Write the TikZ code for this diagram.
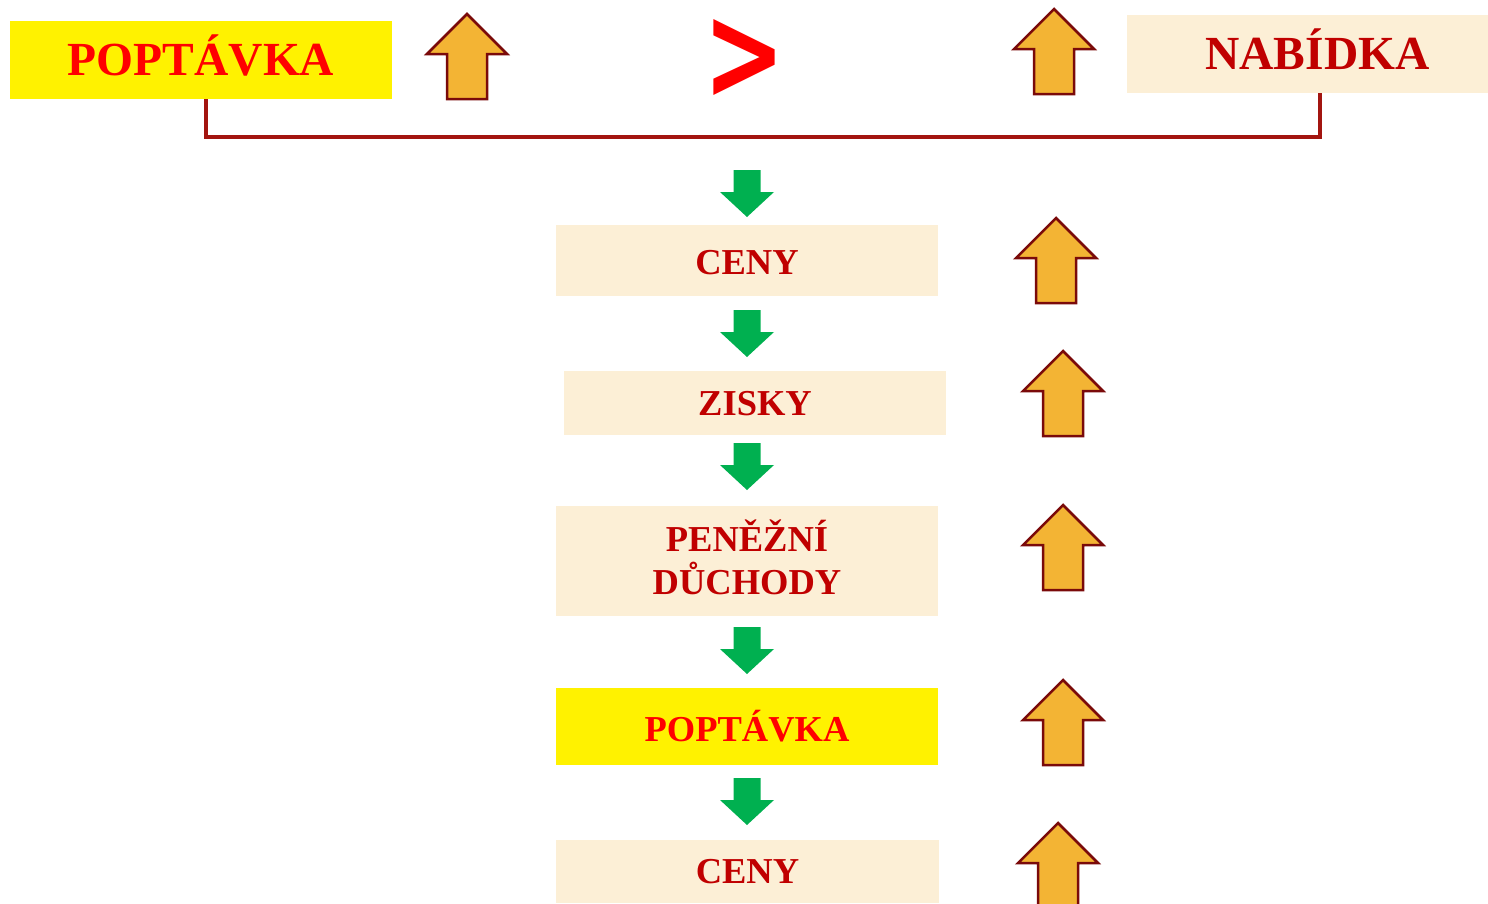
\documentclass[tikz,border=0pt]{standalone}
\usepackage{fontspec}
\setmainfont{Liberation Serif}
\newfontfamily\symfont{DejaVu Sans}
\definecolor{beige}{HTML}{FCEFD6}
\definecolor{dred}{HTML}{C00000}
\definecolor{bred}{HTML}{A31510}
\definecolor{orangef}{HTML}{F3B434}
\definecolor{orangeo}{HTML}{7A0A0A}
\definecolor{grn}{HTML}{00B050}
\tikzset{
  box/.style={rectangle, inner sep=0pt, fill=beige, text=dred, minimum width=382pt,
    font=\fontsize{36.5}{43}\selectfont\bfseries, text height=24pt, text depth=0pt, align=center},
  bigbox/.style={box, font=\fontsize{47.5}{55}\selectfont\bfseries, text height=31pt},
  yellowbox/.style={fill=yellow, text=red},
  bracket/.style={draw=bred, line width=4.5pt},
  uparrow/.pic={\draw[orangeo, fill=orangef, line width=2.5pt, miter limit=10]
      (-20,0) -- (-20,-45) -- (-40,-45) -- (0,-85) -- (40,-45) -- (20,-45) -- (20,0) -- cycle;},
  downarrow/.pic={\fill[grn] (-13.5,0) -- (13.5,0) -- (13.5,22) -- (27,22) -- (0,47)
      -- (-27,22) -- (-13.5,22) -- cycle;}
}
\begin{document}
\begin{tikzpicture}[x=1pt,y=-1pt]
\useasboundingbox (0,0) rectangle (1488,903);
% top row
\node[bigbox, yellowbox, minimum width=382pt, minimum height=78pt] (topP) at (201,60) {POPT\'AVKA};
\node[bigbox, minimum width=361pt, minimum height=78pt] (topN) at (1307.5,54) {\hspace*{20pt}NAB\'IDKA};
\node[text=red, inner sep=0pt, font=\symfont\bfseries\fontsize{134}{134}\selectfont, xscale=0.73, anchor=center] (gt) at (744,59) {>};
\pic at (467,99) {uparrow};
\pic at (1054,94) {uparrow};
\draw[bracket] ([xshift=5pt]topP.south) -- ++(0,38) -| ([xshift=12.5pt]topN.south);
% column
\node[box, minimum height=71pt, text height=28pt] (ceny1) at (747,260.5) {CENY};
\node[box, minimum height=64pt] (zisky) at (755,403) {ZISKY};
\node[box, minimum height=110pt, text height=67pt] (penez) at (747,561) {PENĚŽNÍ\\DŮCHODY};
\node[box, yellowbox, minimum height=77pt, text height=30pt] (pop2) at (747,726.5) {POPT\'AVKA};
\node[box, minimum width=383pt, minimum height=63pt] (ceny2) at (747.5,871.5) {CENY};
% green arrows
\pic at (747,170) {downarrow};
\pic at (747,310) {downarrow};
\pic at (747,443) {downarrow};
\pic at (747,627) {downarrow};
\pic at (747,778) {downarrow};
% orange arrows
\pic at (1056,303) {uparrow};
\pic at (1063,436) {uparrow};
\pic at (1063,590) {uparrow};
\pic at (1063,765) {uparrow};
\pic at (1058,908) {uparrow};
\end{tikzpicture}
\end{document}
